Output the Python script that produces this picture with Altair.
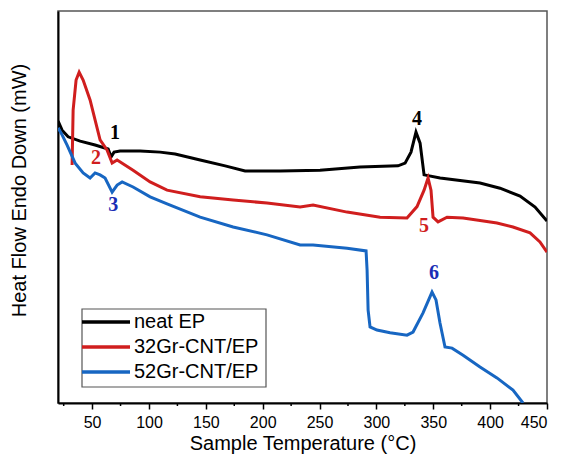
import altair as alt
import pandas as pd

# ---- data ----
series_names = ["neat EP", "32Gr-CNT/EP", "52Gr-CNT/EP"]
series_colors = ["#000000", "#d01e1e", "#1766c2"]

temp_neat = [20.1, 23.6, 28.9, 39.5, 52.6, 64.1, 66.7, 69.3, 74.6, 92.2, 109.8, 123.0,
             145.0, 167.0, 184.5, 215.3, 250.4, 285.6, 319.0, 325.2, 330.4, 334.8,
             338.4, 341.9, 356.0, 391.1, 408.7, 426.3, 439.5, 450.0]
hf_neat = [71.9, 69.6, 67.9, 66.8, 65.8, 64.8, 62.8, 64.0, 64.3, 64.3, 64.0, 63.5,
           62.0, 60.5, 59.2, 59.2, 59.4, 60.2, 60.5, 61.2, 64.0, 69.1,
           66.3, 58.2, 57.4, 56.1, 54.8, 52.8, 50.0, 46.4]

temp_32 = [32.4, 33.3, 35.9, 38.6, 42.1, 48.2, 57.0, 63.2, 67.6, 72.0, 86.0, 101.0,
           115.9, 145.0, 174.0, 203.8, 232.9, 244.3, 274.2, 303.2, 326.9, 335.7,
           341.9, 345.4, 348.0, 349.8, 354.2, 362.1, 376.2, 406.0, 420.1, 435.1,
           443.8, 450.0]
hf_32 = [60.7, 74.7, 82.4, 84.4, 82.4, 77.3, 67.1, 64.5, 61.2, 62.0, 59.4, 56.4,
         54.3, 52.6, 51.8, 51.0, 50.0, 50.5, 48.7, 47.4, 47.2, 50.1,
         54.3, 57.4, 54.3, 47.4, 46.2, 47.4, 47.2, 45.9, 44.9, 43.4,
         41.1, 38.5]

temp_52 = [20.1, 23.6, 28.0, 35.1, 42.1, 48.2, 52.6, 57.0, 61.4, 67.6, 72.0, 76.4,
           86.0, 101.0, 115.9, 145.0, 174.0, 203.8, 232.9, 244.3, 274.2, 290.9,
           291.8, 292.7, 294.4, 300.5, 312.0, 326.9, 332.2, 341.0, 348.9, 352.4,
           355.9, 360.3, 366.5, 376.2, 391.1, 406.0, 420.1, 428.9]
hf_52 = [70.2, 68.4, 65.8, 61.2, 58.7, 57.4, 58.7, 58.2, 57.4, 53.8, 55.6, 56.4,
         55.1, 52.6, 50.8, 47.4, 44.9, 42.9, 40.3, 40.3, 39.5, 38.8,
         33.9, 23.7, 19.4, 18.6, 17.9, 17.3, 18.1, 23.0, 28.3, 26.3,
         20.4, 14.3, 14.0, 12.2, 9.2, 6.4, 3.3, 0.0]

peak_labels = ["1", "2", "3", "4", "5", "6"]
peak_temp = [70.2, 53.5, 68.5, 335.7, 341.9, 350.7]
peak_hf = [68.9, 62.5, 50.5, 72.4, 45.2, 33.2]
peak_colors = ["#000000", "#d01e1e", "#1a2db5", "#000000", "#d01e1e", "#1a2db5"]

major_ticks = [50, 100, 150, 200, 250, 300, 350, 400, 450]
minor_ticks = [25, 75, 125, 175, 225, 275, 325, 375, 425]

# ---- tables ----
rows = []
for name, ts, hs in zip(series_names, [temp_neat, temp_32, temp_52], [hf_neat, hf_32, hf_52]):
    for i, (t, h) in enumerate(zip(ts, hs)):
        rows.append({"series": name, "T": t, "HF": h, "order": i})
df = pd.DataFrame(rows)

peaks = pd.DataFrame({"label": peak_labels, "T": peak_temp, "HF": peak_hf, "c": peak_colors})
leg = pd.DataFrame({"series": series_names, "idx": list(range(len(series_names)))})
minor = pd.DataFrame({"v": minor_ticks})

FONT = "Liberation Sans"

xscale = alt.Scale(domain=[20, 450], nice=False, zero=False)
yscale = alt.Scale(domain=[0, 100], nice=False, zero=False)
color = alt.Color("series:N", scale=alt.Scale(domain=series_names, range=series_colors), legend=None)

xaxis = alt.Axis(
    values=major_ticks,
    tickSize=6, tickColor="#000000", tickWidth=1.5, grid=False,
    domainColor="#000000", domainWidth=2,
    labelFont=FONT, labelFontSize=16, labelColor="#000000", labelPadding=5,
    titleFont=FONT, titleFontSize=20, titleFontWeight="normal", titleColor="#000000",
    titlePadding=3,
)
yaxis = alt.Axis(
    labels=False, ticks=False, grid=False,
    domainColor="#000000", domainWidth=2,
    titleFont=FONT, titleFontSize=20, titleFontWeight="normal", titleColor="#000000",
    titleBaseline="alphabetic", titleX=-33, titleY=179,
)

lines = alt.Chart(df).mark_line(strokeWidth=3, clip=True).encode(
    x=alt.X("T:Q", scale=xscale, axis=xaxis, title="Sample Temperature (°C)"),
    y=alt.Y("HF:Q", scale=yscale, axis=yaxis, title="Heat Flow Endo Down (mW)"),
    color=color,
    detail="series:N",
    order=alt.Order("order:Q"),
)

minor_rules = alt.Chart(minor).mark_rule(color="#000000", strokeWidth=1.5).encode(
    x=alt.X("v:Q", scale=xscale),
    y=alt.value(392), y2=alt.value(395),
)

labels = alt.Chart(peaks).mark_text(
    font="Liberation Serif", fontWeight="bold", fontSize=20, baseline="middle", align="center"
).encode(
    x=alt.X("T:Q", scale=xscale),
    y=alt.Y("HF:Q", scale=yscale),
    text="label:N",
    color=alt.Color("c:N", scale=None, legend=None),
)

box = alt.Chart(pd.DataFrame({"a": [0]})).mark_rect(
    fill="white", stroke="#555555", strokeWidth=1.2
).encode(x=alt.value(24), x2=alt.value(208), y=alt.value(298), y2=alt.value(376))

leg_lines = alt.Chart(leg).transform_calculate(ly="311 + 25 * datum.idx").mark_rule(
    strokeWidth=3.5
).encode(
    x=alt.value(24), x2=alt.value(72),
    y=alt.Y("ly:Q", scale=None),
    color=color,
)
leg_text = alt.Chart(leg).transform_calculate(ly="311 + 25 * datum.idx").mark_text(
    font=FONT, fontSize=20, align="left", baseline="middle", color="#000000"
).encode(
    x=alt.value(76),
    y=alt.Y("ly:Q", scale=None),
    text="series:N",
)

chart = alt.layer(lines, minor_rules, labels, box, leg_lines, leg_text).properties(
    width=489, height=392,
    autosize=alt.AutoSizeParams(type="none"),
    padding={"left": 50, "top": 3, "right": 6, "bottom": 53},
).configure_view(stroke="#555555", strokeWidth=1.5)

chart.save("out.html", embed_options={"renderer": "svg", "actions": False})
